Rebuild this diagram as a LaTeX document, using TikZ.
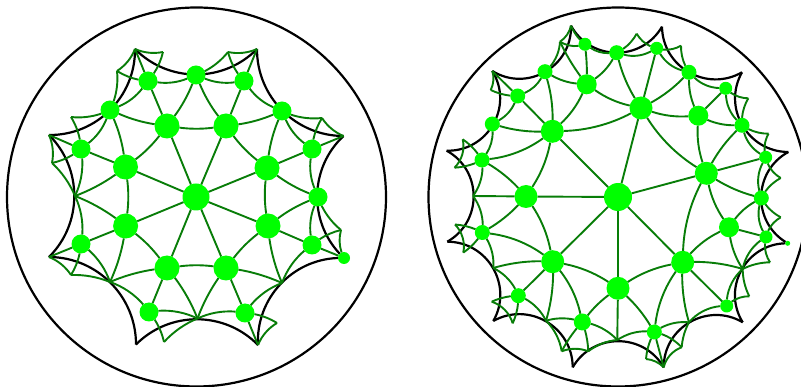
\documentclass[tikz,border=0pt]{standalone}
\usepackage{tikz}
\definecolor{lime}{RGB}{0,255,0}
\definecolor{linkgreen}{RGB}{8,125,8}
\pgfdeclarelayer{under}
\pgfsetlayers{under,main}
\def\rad{189.5}
\newcommand{\geo}[3][link]{%
  \pgfpointanchor{\disc}{center}\pgfgetlastxy{\gox}{\goy}%
  \pgfpointanchor{#2}{center}\pgfgetlastxy{\gax}{\gay}%
  \pgfpointanchor{#3}{center}\pgfgetlastxy{\gbx}{\gby}%
  \pgfmathsetmacro\gpa{(\gax-\gox)/\rad}%
  \pgfmathsetmacro\gpb{(\gay-\goy)/\rad}%
  \pgfmathsetmacro\gqa{(\gbx-\gox)/\rad}%
  \pgfmathsetmacro\gqb{(\gby-\goy)/\rad}%
  \pgfmathsetmacro\gA{1+\gpa*\gpa+\gpb*\gpb}%
  \pgfmathsetmacro\gB{1+\gqa*\gqa+\gqb*\gqb}%
  \pgfmathsetmacro\gD{2*(\gpa*\gqb-\gpb*\gqa)}%
  \pgfmathsetmacro\gWa{\gA*\gqa-\gB*\gpa}%
  \pgfmathsetmacro\gWb{\gA*\gqb-\gB*\gpb}%
  \pgfmathsetmacro\gdd{sqrt((\gqa-\gpa)*(\gqa-\gpa)+(\gqb-\gpb)*(\gqb-\gpb))}%
  \pgfmathsetmacro\gbend{asin(\gdd*\gD/(2*sqrt(\gWa*\gWa+\gWb*\gWb-\gD*\gD)))}%
  \pgfmathsetmacro\gloose{0.8515/(cos(\gbend/2)*cos(\gbend/2))}%
  \draw[#1] (#2) to[bend left=\gbend, looseness=\gloose] (#3);%
}

\begin{document}
\begin{tikzpicture}[
  x=1pt, y=-1pt,
  every node/.style={circle, fill=lime, inner sep=0pt, outer sep=0pt},
  link/.style={draw=linkgreen, line width=1.9pt},
  rim/.style={draw=black, line width=2.2pt},
  centredot/.style={minimum size=27pt},
  bigdot/.style={minimum size=25pt},
  middot/.style={minimum size=20pt},
  outerdot/.style={minimum size=19pt},
  smalldot/.style={minimum size=15pt},
  tinydot/.style={minimum size=12pt}]
\useasboundingbox (0,0) rectangle (801,387);
\clip (0,0) rectangle (801,387);
\coordinate (o1) at (196.5,197);
\coordinate (o2) at (618,197);
\draw[rim] (o1) circle[radius=189.5pt];
\draw[rim] (o2) circle[radius=189.5pt];

\node[centredot] (c) at (196,197) {};
\foreach \n/\x/\y in {a1/167/126, a2/226/126, a3/267/168, a4/268/226, a5/226/268, a6/167/268, a7/125.6/226, a8/125.5/167}
  \node[bigdot] (\n) at (\x,\y) {};
\foreach \n/\x/\y in {b1/148/81, b2/196/75, b3/244/81, b4/282/111, b5/312/149, b6/318/197, b7/312/245, b8/245/313, b9/149/312, b10/81/244, b11/81/149, b12/110/110}
  \node[outerdot] (\n) at (\x,\y) {};
\node[tinydot] (t1) at (344,258) {};
\foreach \n/\x/\y in {j1/282/283, j2/197.5/318.5, j3/110/282, j4/75/196,
  v1/135/49, v2/257/49, v3/343.5/136, v5/258/345, v6/136/344.5, v7/49/257, v8/49/135,
  g1/163/52, g2/117/71, g3/228/52, g4/322/118, g5/341/230, g6/277/323, g7/164/342, g8/71/275, g9/52/163, g10/71/117}
  \coordinate (\n) at (\x,\y);

\node[centredot, minimum size=28pt] (rc) at (618,197) {};
\foreach \n/\x/\y in {ra1/641/108, ra2/706.3/173.3, ra3/682.7/262.3, ra4/618/288.3, ra5/552.7/261.7, ra6/526/196.5, ra7/552.3/131.3}
  \node[bigdot, minimum size=23pt] (\n) at (\x,\y) {};
\foreach \n/\x/\y in {rm1/586.7/84.3, rm2/698.3/115.7, rm3/729/227.3}
  \node[middot] (\n) at (\x,\y) {};
\foreach \n/\x/\y in {rb2/616.7/52.7, rb4/689/72.3, rb6/742/125.3, rb8/761.3/198, rb11/654.3/332, rb13/518.3/295.7, rb14/482.3/232.5, rb15/482/160, rb16/492.3/124, rb17/517.7/96, rb18/545/71.7}
  \node[smalldot] (\n) at (\x,\y) {};
\node[middot, minimum size=17pt] (rb12) at (582.3,322) {};
\foreach \n/\x/\y in {rb1/585/44.3, rb3/656.7/48.3, rb5/725.7/88.3, rb7/765.7/157.3, rb9/766/237, rb10/726.7/306}
  \node[tinydot, minimum size=13pt] (\n) at (\x,\y) {};
\node[tinydot, minimum size=5pt] (rt) at (787.7,243.3) {};
\foreach \n/\x/\y in {rj1/742.7/269, rj2/689/322.3, rj3/617.3/340, rj4/546/320.7, rj5/493.3/268, rj6/473/196,
  rv1/571/25.7, rv2/662/26.7, rv3/742/72.3, rv4/788.3/152, rv6/742.7/322.3, rv7/663.7/367.3, rv8/572.7/367.3, rv9/493.3/321, rv10/447.3/241.7, rv11/446.7/150.7, rv12/492.3/71,
  rg1/560/41.7, rg2/636.7/33.7, rg3/681/45.7, rg4/748.3/98.3, rg5/768.5/133.7, rg6/780.7/178, rg7/780.7/217.3, rg8/770/262.3, rg9/749.3/296.3, rg10/681.7/347.3, rg11/646/359, rg12/588.3/351.3, rg13/561.7/351.3, rg14/512.7/323.3, rg15/491.7/301.7, rg16/463.3/252.6, rg17/455/224.5, rg18/454.5/167.7, rg19/462.7/139.3, rg20/490.7/90}
  \coordinate (\n) at (\x,\y);

\begin{pgfonlayer}{under}
\def\disc{o1}
\foreach \p/\q in {v1/v2, v2/v3, v3/t1, t1/v5, v5/v6, v6/v7, v7/v8, v8/v1}
  {\geo[rim]{\p}{\q}}
\foreach \p/\q in {c/a1, c/a2, c/a3, c/a4, c/a5, c/a6, c/a7, c/a8,
  a1/a2, a2/a3, a3/a4, a4/a5, a5/a6, a6/a7, a7/a8, a8/a1,
  a1/b1, a1/b2, a1/b12, a2/b2, a2/b3, a2/b4, a3/b4, a3/b5, a3/b6, a4/b6, a4/b7, a4/j1,
  a5/j1, a5/b8, a5/j2, a6/j2, a6/b9, a6/j3, a7/j3, a7/b10, a7/j4, a8/j4, a8/b11, a8/b12,
  b1/b2, b2/b3, b3/b4, b4/b5, b5/b6, b6/b7, b7/j1, j1/b8, b8/j2, j2/b9, b9/j3, j3/b10, b10/j4, j4/b11, b11/b12, b12/b1,
  b1/v1, b1/g1, b1/g2, v1/g1, v1/g2, g2/b12, b3/v2, b3/g3, v2/g3, g3/b2, b5/v3, b5/g4, v3/g4, g4/b4,
  b7/t1, b7/g5, t1/g5, g5/b6, b8/v5, b8/g6, v5/g6, b9/g7, g7/j2, b10/v7, b10/g8, v7/g8, g8/j3,
  b11/v8, b11/g9, b11/g10, v8/g9, g9/j4, g10/b12}
  {\geo{\p}{\q}}
\def\disc{o2}
\foreach \p/\q in {rv1/rv2, rv2/rv3, rv3/rv4, rv4/rt, rt/rv6, rv6/rv7, rv7/rv8, rv8/rv9, rv9/rv10, rv10/rv11, rv11/rv12, rv12/rv1}
  {\geo[rim]{\p}{\q}}
\foreach \p/\q in {rc/ra1, rc/ra2, rc/ra3, rc/ra4, rc/ra5, rc/ra6, rc/ra7,
  ra7/ra1, ra1/ra2, ra2/ra3, ra3/ra4, ra4/ra5, ra5/ra6, ra6/ra7,
  ra7/rb15, ra7/rb16, ra7/rb17, ra7/rb18, ra7/rm1, rm1/rb18, rm1/rb1, rm1/rb2, rm1/ra1, rm1/rg1,
  ra1/rb2, ra1/rb3, ra1/rb4, ra1/rm2, rm2/rb4, rm2/rb5, rm2/rb6, rm2/ra2,
  ra2/rb6, ra2/rb7, ra2/rb8, ra2/rm3, rm3/rb8, rm3/rb9, rm3/rj1, rm3/ra3,
  ra3/rj1, ra3/rb10, ra3/rj2, ra3/rb11, ra4/rb11, ra4/rj3, ra4/rb12,
  ra5/rb12, ra5/rj4, ra5/rb13, ra5/rj5, ra5/rb14, ra6/rb14, ra6/rj6, ra6/rb15,
  rb1/rb2, rb2/rb3, rb3/rb4, rb4/rb5, rb5/rb6, rb6/rb7, rb7/rb8, rb8/rb9, rb9/rj1, rj1/rb10, rb10/rj2, rj2/rb11,
  rb11/rj3, rj3/rb12, rb12/rj4, rj4/rb13, rb13/rj5, rj5/rb14, rb14/rj6, rj6/rb15, rb15/rb16, rb16/rb17, rb17/rb18,
  rb1/rv1, rb1/rg1, rv1/rg1, rg1/rb18, rg2/rb2, rg2/rb3, rg3/rb3, rg3/rb4, rg4/rb5, rg4/rb6, rg5/rb6, rg5/rb7,
  rg6/rb7, rg6/rb8, rg7/rb8, rg7/rb9, rg8/rb9, rg8/rj1, rg9/rj1, rg9/rb10, rg10/rb11, rg10/rj2, rg10/rv7,
  rg11/rb11, rg11/rv7, rb11/rv7, rg12/rb12, rg12/rj3, rg12/rg13, rg13/rb12, rg13/rj4, rg14/rb13, rg14/rg15, rg15/rb13,
  rg16/rb14, rg16/rg17, rg17/rb14, rg18/rb15, rg18/rg19, rg19/rb15, rg20/rb17, rg20/rv12, rv12/rb17}
  {\geo{\p}{\q}}
\end{pgfonlayer}
\end{tikzpicture}
\end{document}
